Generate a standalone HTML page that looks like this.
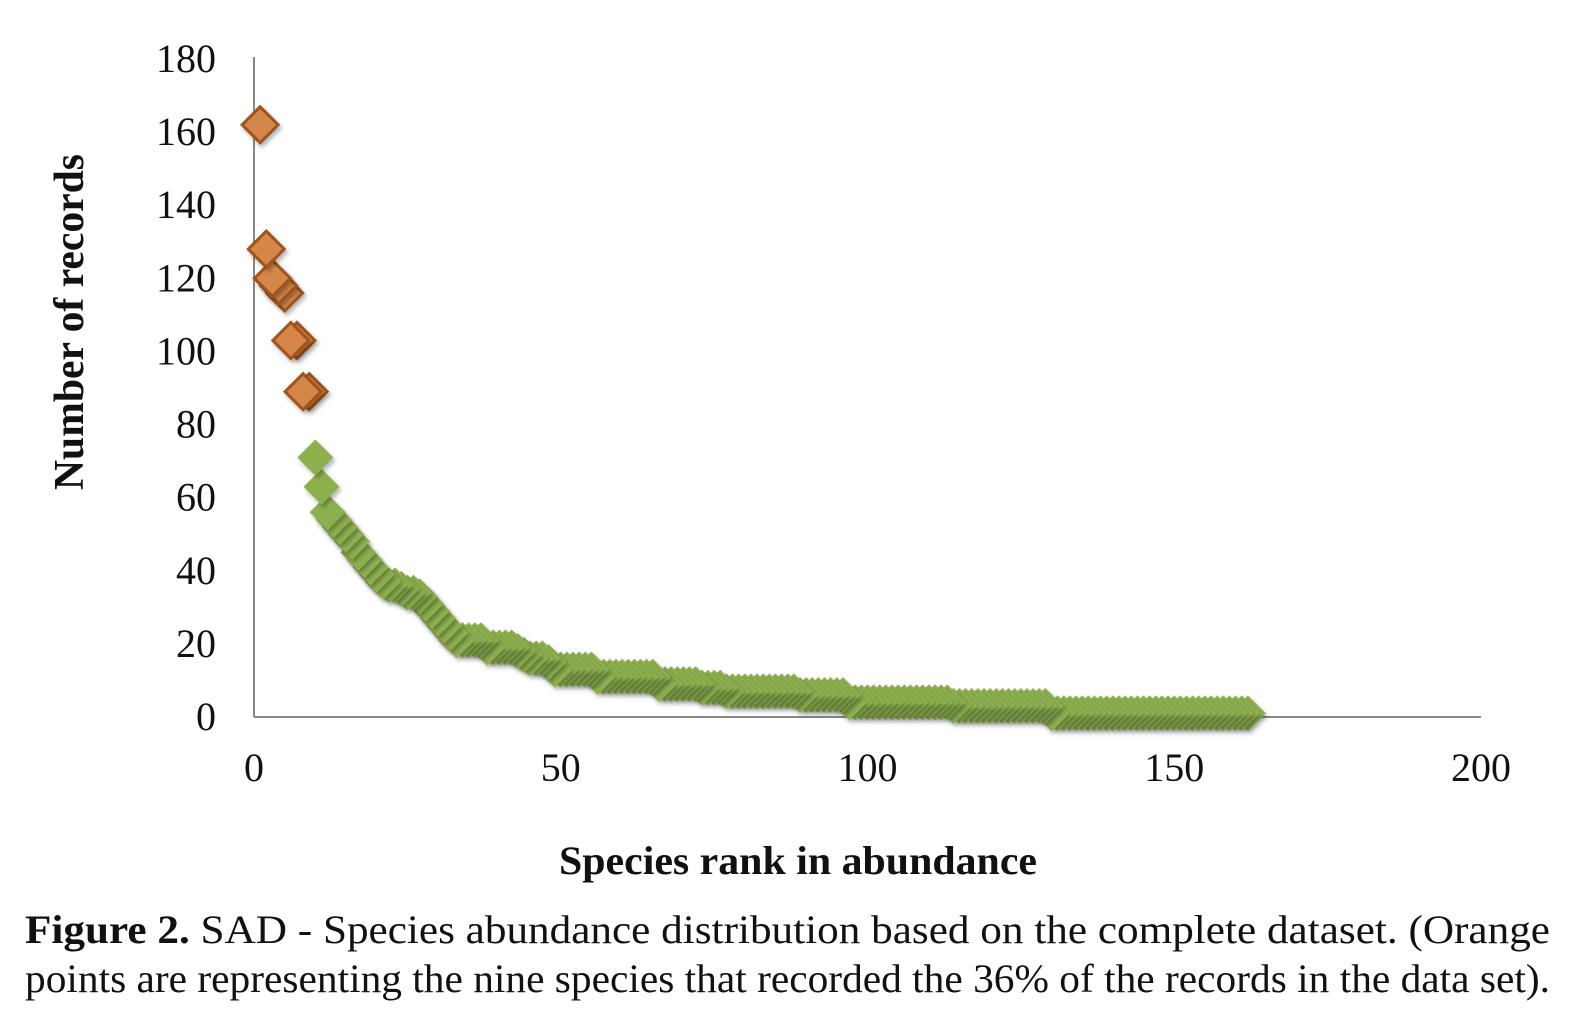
<!DOCTYPE html>
<html><head><meta charset="utf-8"><style>
html,body{margin:0;padding:0;background:#fff;}
svg{display:block;}
text{font-family:"Liberation Serif",serif;fill:#111;}
</style></head><body>
<svg id="chart" width="1576" height="1024" viewBox="0 0 1576 1024">
<defs>
<filter id="sh" x="-50%" y="-50%" width="200%" height="200%"><feDropShadow dx="2" dy="3" stdDeviation="2" flood-color="#000" flood-opacity="0.3"/></filter>
</defs>
<g id="axes">
<line x1="254" y1="57" x2="254" y2="717" stroke="#888" stroke-width="2"/>
<line x1="254" y1="717" x2="1481" y2="717" stroke="#888" stroke-width="2"/>
</g>
<g id="ticks"></g>
<g id="marks"></g>
<text x="0" y="0" transform="translate(83,322) rotate(-90)" text-anchor="middle" font-size="42" font-weight="bold" textLength="336" lengthAdjust="spacingAndGlyphs">Number of records</text>
<text x="798" y="874" text-anchor="middle" font-size="40" font-weight="bold" textLength="478" lengthAdjust="spacingAndGlyphs">Species rank in abundance</text>
<text x="25" y="943" font-size="40" textLength="1525" lengthAdjust="spacingAndGlyphs"><tspan font-weight="bold">Figure 2.</tspan>  SAD - Species abundance distribution based on the complete dataset. (Orange</text>
<text x="25" y="992" font-size="40" textLength="1525" lengthAdjust="spacingAndGlyphs">points are representing the nine species that recorded the 36% of the records in the data set).</text>
</svg>
<script>
const xTicks=[0,50,100,150,200];
const yTicks=[0,20,40,60,80,100,120,140,160,180];
const orangeRanks=[1,2,3,4,5,6,7,8,9];
const orangeValues=[162,128,120,118,116,103,103,89,89];
const greenValues=[71,63,56,54,52,50,48,45,43,41,39,37,36,36,35,34,34,33,31,29,27,25,23,21,21,21,21,21,19,19,19,19,19,18,17,16,16,16,15,
13,13,13,13,13,13,13,
11,11,11,11,11,11,11,11,11,11,
9,9,9,9,9,9,9,
8,8,8,8,
7,7,7,7,7,7,7,7,7,7,7,7,
6,6,6,6,6,6,6,6,
4,4,4,4,4,4,4,4,4,4,4,4,4,4,4,4,4,
3,3,3,3,3,3,3,3,3,3,3,3,3,3,3,3,
1,1,1,1,1,1,1,1,1,1,1,1,1,1,1,1,1,1,1,1,1,1,1,1,1,1,1,1,1,1,1,1,1];
const greenStartRank=10;
const X=v=>254+v*(1481-254)/200;
const Y=v=>717-v*(717-59)/180;
const NS='http://www.w3.org/2000/svg';
const ticks=document.getElementById('ticks'), marks=document.getElementById('marks');
function mk(tag,attrs,parent){const e=document.createElementNS(NS,tag);for(const k in attrs)e.setAttribute(k,attrs[k]);parent.appendChild(e);return e;}
xTicks.forEach(t=>{const e=mk('text',{x:X(t),y:781,'text-anchor':'middle','font-size':'40'},ticks);e.textContent=t;

});
yTicks.forEach(t=>{const e=mk('text',{x:216,y:Y(t)+13,'text-anchor':'end','font-size':'40'},ticks);e.textContent=t;

});
const s=18;
function diamond(cx,cy){return `${cx},${cy-s} ${cx+s},${cy} ${cx},${cy+s} ${cx-s},${cy}`;}
for(let i=greenValues.length-1;i>=0;i--){
const p=mk('polygon',{points:diamond(X(greenStartRank+i),Y(greenValues[i])),fill:'#8db04f',filter:'url(#sh)'},marks);


}
for(let i=orangeValues.length-1;i>=0;i--){
const p=mk('polygon',{points:diamond(X(orangeRanks[i]),Y(orangeValues[i])),fill:'#d4874a',stroke:'#a0521d','stroke-width':'3',filter:'url(#sh)'},marks);


}
</script>
</body></html>
